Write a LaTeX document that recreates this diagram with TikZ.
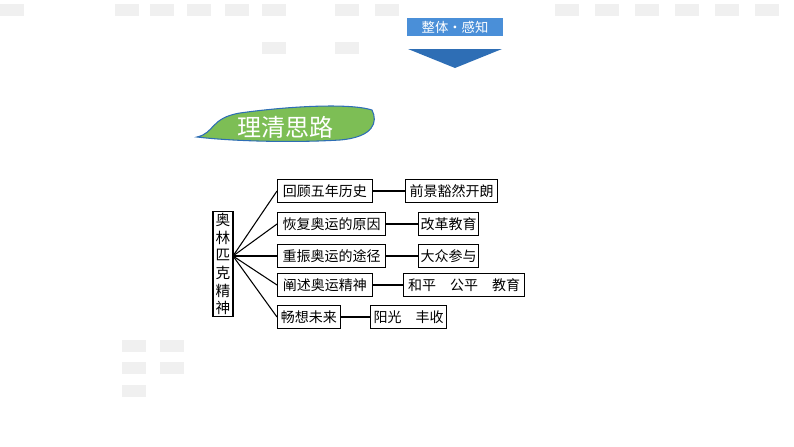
\documentclass[tikz,border=0pt]{standalone}
\usepackage{fontspec}
\setmainfont{Noto Sans CJK SC}
\newfontfamily\cjk{Noto Sans CJK SC}
\definecolor{hdblue}{HTML}{4A8FD8}
\definecolor{triblue}{HTML}{2E6EB5}
\definecolor{leafgreen}{HTML}{7DBE55}
\definecolor{bgtile}{HTML}{F0F0F0}
\tikzset{
  box/.style={draw, thick, inner sep=0pt, font=\cjk\fontsize{10.5}{12}\selectfont, anchor=west, minimum height=17pt},
  link/.style={thick}
}
\begin{document}
\begin{tikzpicture}[x=0.75pt, y=-0.75pt]
\useasboundingbox (0,0) rectangle (794,447);
% faint background tiles
\foreach \x in {0,115,150,187,225,262,335,375}
  \fill[bgtile] (\x,4) rectangle ++(24,12);
\foreach \x in {262,335} \fill[bgtile] (\x,42) rectangle ++(24,12);
\foreach \x in {555,595,635,675,715,755}
  \fill[bgtile] (\x,4) rectangle ++(24,12);
\foreach \y in {340,362,385} \fill[bgtile] (122,\y) rectangle ++(24,12);
\foreach \y in {340,362} \fill[bgtile] (160,\y) rectangle ++(24,12);
% header
\node[fill=hdblue, text=white, minimum width=72pt, minimum height=13.5pt, inner sep=0pt,
  font=\cjk\fontsize{10}{12}\selectfont] (hd) at (455,27) {整体·感知};
\fill[triblue] (408,49) -- (502,49) -- (455,68) -- cycle;
% title leaf
\draw[fill=leafgreen, draw=triblue, thick]
  (197,137) .. controls (215,133) and (210,118) .. (240,113)
  .. controls (290,106) and (350,103) .. (372,110)
  .. controls (378,122) and (374,137) .. (340,140)
  .. controls (290,143) and (230,141) .. (197,137) -- cycle;
\node[text=white, font=\cjk\fontsize{18}{20}\selectfont] (tt) at (285,127) {理清思路};
% root
\node[draw, thick, inner sep=1pt, text width=13pt, align=center,
  font=\cjk\fontsize{11}{13.2}\selectfont] (root) at (223,264) {奥\\林\\匹\\克\\精\\神};
\coordinate (fan) at (233,256);
% left boxes
\node[box, minimum width=71pt] (a1) at (277,191) {回顾五年历史};
\node[box, minimum width=81pt] (a2) at (277,224) {恢复奥运的原因};
\node[box, minimum width=81pt] (a3) at (277,256) {重振奥运的途径};
\node[box, minimum width=71pt] (a4) at (277,285) {阐述奥运精神};
\node[box, minimum width=47pt] (a5) at (277,317) {畅想未来};
% right boxes
\node[box, minimum width=69pt] (b1) at (405,191) {前景豁然开朗};
\node[box, minimum width=45pt] (b2) at (418,224) {改革教育};
\node[box, minimum width=45pt] (b3) at (418,256) {大众参与};
\node[box, minimum width=91pt] (b4) at (403,285) {和平\quad 公平\quad 教育};
\node[box, minimum width=57pt] (b5) at (370,317) {阳光\quad 丰收};
\foreach \i in {1,...,5}{
  \draw[link] (fan) -- (a\i.west);
  \draw[link] (a\i.east) -- (b\i.west);
}
\end{tikzpicture}
\end{document}
